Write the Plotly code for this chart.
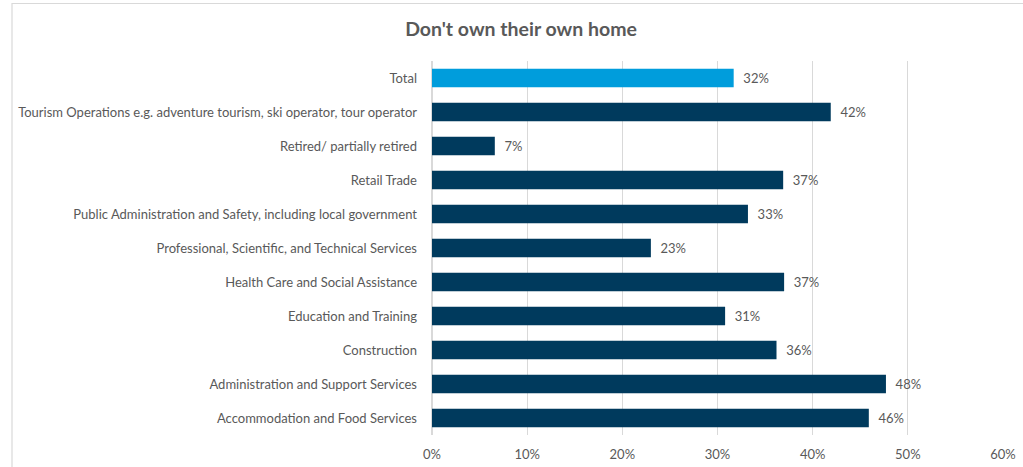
import plotly.graph_objects as go

# Share of respondents who don't own their own home, by industry (%)
categories = [
    "Accommodation and Food Services",
    "Administration and Support Services",
    "Construction",
    "Education and Training",
    "Health Care and Social Assistance",
    "Professional, Scientific, and Technical Services",
    "Public Administration and Safety, including local government",
    "Retail Trade",
    "Retired/ partially retired",
    "Tourism Operations e.g. adventure tourism, ski operator, tour operator",
    "Total",
]
values = [45.9, 47.7, 36.2, 30.8, 37.0, 23.0, 33.2, 36.9, 6.6, 41.9, 31.7]
tick_values = [0, 10, 20, 30, 40, 50, 60]
tick_labels = ["0%", "10%", "20%", "30%", "40%", "50%", "60%"]

NAVY = "#003A5D"
BLUE = "#009DDC"
GREY_TEXT = "#595959"
FONT = "Lato, 'Open Sans', sans-serif"

colors = [BLUE if c == "Total" else NAVY for c in categories]

W, H = 1023, 467
ML, MR, MT, MB = 432, 20, 61, 32

fig = go.Figure(
    go.Bar(
        x=values,
        y=categories,
        orientation="h",
        marker=dict(color=colors, line=dict(width=0)),
        text=[f"\u00a0\u00a0{v:.0f}%" for v in values],
        textposition="outside",
        textfont=dict(color=GREY_TEXT, size=13, family=FONT),
        cliponaxis=False,
        hoverinfo="skip",
    )
)

# outer chart frame (top and left edges visible)
pw = W - ML - MR
ph = H - MT - MB
def px_to_paper_x(px):
    return (px - ML) / pw
def px_to_paper_y(py):
    return (H - MB - py) / ph

fig.add_shape(
    type="rect", xref="paper", yref="paper",
    x0=px_to_paper_x(12), x1=px_to_paper_x(1100),
    y0=px_to_paper_y(520), y1=px_to_paper_y(3.5),
    line=dict(color="#D9D9D9", width=1.2), fillcolor="rgba(0,0,0,0)",
    layer="below",
)

fig.update_layout(
    width=W,
    height=H,
    margin=dict(l=ML, r=MR, t=MT, b=MB, pad=0),
    paper_bgcolor="white",
    plot_bgcolor="white",
    bargap=0.46,
    showlegend=False,
    title=dict(
        text="<b>Don't own their own home</b>",
        x=521 / W,
        xanchor="center",
        y=1 - 29 / H,
        yanchor="middle",
        font=dict(family=FONT, size=19.5, color=GREY_TEXT),
    ),
    xaxis=dict(
        range=[0, 60],
        tickvals=tick_values,
        ticktext=tick_labels,
        showgrid=True,
        gridcolor="#D9D9D9",
        gridwidth=1,
        zeroline=True,
        zerolinecolor="#D9D9D9",
        showline=False,
        ticks="",
        tickfont=dict(family=FONT, size=13, color=GREY_TEXT),
        ticklabelstandoff=10,
        automargin=False,
        fixedrange=True,
    ),
    yaxis=dict(
        categoryorder="array",
        categoryarray=categories,
        showgrid=False,
        ticks="",
        tickfont=dict(family=FONT, size=13, color=GREY_TEXT),
        ticklabelstandoff=14,
        automargin=False,
        fixedrange=True,
    ),
)

fig.write_html("out.html")
